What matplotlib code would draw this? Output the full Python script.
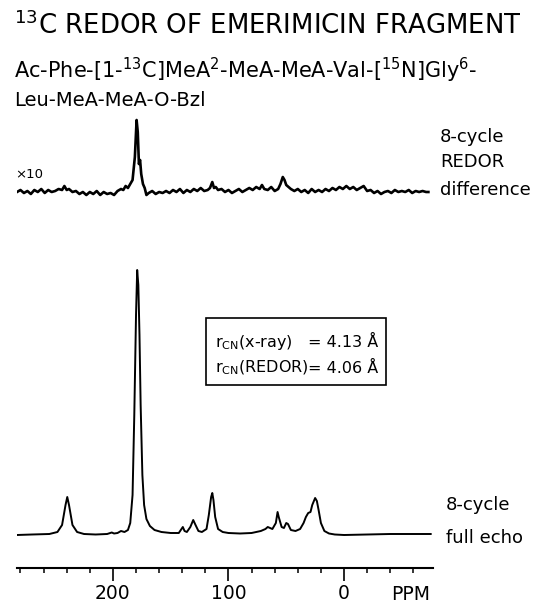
import numpy as np
import matplotlib.pyplot as plt
from matplotlib.ticker import MultipleLocator
from matplotlib.patches import Rectangle

plt.rcParams['font.family'] = ['DejaVu Sans']
plt.rcParams['mathtext.fontset'] = 'dejavusans'

W, H = 546, 607

## Full echo trace (ppm, height above baseline)
echo_ppm = [283, 270, 255, 248, 244, 241, 239.5, 238, 235, 231, 225, 215, 205, 201, 199,
            196, 193, 190, 187, 185, 183, 181.5, 180, 179, 178, 177, 176, 174.5, 173, 171,
            168, 164, 158, 150, 143, 139.5, 138, 136, 133, 130.5, 128.5, 126, 123, 119, 117,
            115, 114, 113, 111.5, 109, 105, 100, 90, 80, 72, 68, 66, 64, 62, 59, 57.5, 56.5,
            54, 52, 50, 48.5, 46, 42, 38, 35, 33, 31, 29, 27.5, 25, 23.5, 22, 20, 17, 13, 8, 0,
            -20, -40, -60, -75]
echo_int = [0, 0.5, 1, 3, 10, 30, 38, 30, 10, 3, 1, 0.5, 1, 2.5, 1.5,
            2, 4, 3, 5, 12, 40, 120, 220, 265, 250, 200, 130, 60, 30, 16,
            9, 5, 3, 2, 2, 8, 4, 3, 8, 15, 10, 4, 3, 6, 20,
            38, 42, 35, 18, 6, 3, 2, 1.5, 2, 4, 6, 8, 7, 6, 12, 23, 18,
            8, 7, 12, 11, 5, 4, 6, 12, 18, 22, 23, 30, 37, 34, 25, 12, 4, 1.5, 0.5, 0,
            0.5, 1, 1, 1]

## REDOR difference trace (x10)
diff_ppm = [283, 280, 277, 274, 271, 268, 265, 262, 259, 256, 253, 250, 247, 244, 242, 240,
            238, 235, 232, 229, 226, 223, 220, 217, 214, 211, 208, 205, 202, 199, 196, 193,
            191, 189, 187, 185, 183, 181, 179.5, 178.5, 177.5, 176.5, 175.5, 174, 172.5, 171,
            169, 166, 163, 160, 157, 154, 151, 148, 145, 142, 139, 136, 133, 130, 127, 124,
            121, 118, 116, 114, 112.5, 111, 109, 106, 103, 100, 97, 94, 91, 88, 85, 82, 79,
            76, 73, 71, 69, 66, 63, 60, 57, 55, 53, 51.5, 50, 48, 46, 43, 40, 37, 34, 31, 28,
            25, 22, 19, 16, 13, 10, 7, 4, 1, -2, -5, -8, -11, -14, -17, -20, -23, -26, -29,
            -32, -35, -38, -41, -44, -47, -50, -53, -56, -59, -62, -65, -68, -71, -73]
diff_int = [0, 2, -1, 1, -2, 2, 0, 3, -1, 2, 0, 1, 3, 2, 6, 2,
            3, 0, 1, -2, 0, -3, 0, -2, 1, -3, 0, -2, -1, -3, 1, 3,
            2, 6, 4, 8, 12, 35, 72, 60, 28, 32, 18, 8, 4, -3,
            -1, 1, -2, 0, -1, 1, -1, 2, 0, 3, -1, 2, 0, 3, 1, 4,
            1, 2, 4, 10, 4, 5, 2, 3, 0, 2, -1, 1, 3, 0, 2, 4, 2,
            5, 3, 7, 3, 2, 5, 1, 3, 8, 15, 12, 7, 5, 3, 1, 3, 0, 2, -1, 3,
            0, 2, 0, 3, 1, 4, 2, 5, 3, 6, 3, 5, 2, 4, 6, 1, 2, -1, 1,
            -2, 0, 1, -1, 2, 0, 1, 0, 2, -1, 1, 0, 1, 0, 0]

diff_offset = 343  # difference trace sits above the full echo
major_ticks = [200, 100, 0]
tick_labels = ['200', '100', '0']


def fx(x):
    return x / W


def fy(y):
    return 1 - y / H


fig = plt.figure(figsize=(W / 100, H / 100), dpi=100)
ax = fig.add_axes([fx(17), fy(568), (433 - 17) / W, (568 - 100) / H])

ax.plot(echo_ppm, echo_int, color='black', lw=1.4)
ax.plot(diff_ppm, np.array(diff_int) + diff_offset, color='black', lw=1.9)

ax.set_xlim(283, -77)
ax.set_ylim(-33, 435)
ax.set_xticks(major_ticks)
ax.set_xticklabels(tick_labels)
ax.xaxis.set_minor_locator(MultipleLocator(20))
ax.tick_params(axis='x', which='major', length=9.5, width=1.2, direction='out',
               labelsize=13.5, pad=2)
ax.tick_params(axis='x', which='minor', length=3.6, width=1.1, direction='out')
ax.set_yticks([])
for s in ['top', 'left', 'right']:
    ax.spines[s].set_visible(False)
ax.spines['bottom'].set_linewidth(1.5)
ax.patch.set_visible(False)

fig.text(fx(411), fy(594), 'PPM', fontsize=13.5, ha='center', va='center')

# titles
fig.text(fx(14), fy(34), r'$^{13}$C REDOR OF EMERIMICIN FRAGMENT', fontsize=18.7,
         ha='left', va='baseline')
fig.text(fx(14), fy(70), r'Ac-Phe-[1-$^{13}$C]MeA$^{2}$-MeA-MeA-Val-[$^{15}$N]Gly$^{6}$-',
         fontsize=15, ha='left', va='center')
fig.text(fx(14), fy(100), 'Leu-MeA-MeA-O-Bzl', fontsize=14, ha='left', va='center')

# trace labels
fig.text(fx(15), fy(175), '×10', fontsize=9.5, ha='left', va='center')
for txt, y in [('8-cycle', 137), ('REDOR', 162), ('difference', 190)]:
    fig.text(fx(440), fy(y), txt, fontsize=13, ha='left', va='center')
for txt, y in [('8-cycle', 505), ('full echo', 538)]:
    fig.text(fx(446), fy(y), txt, fontsize=13, ha='left', va='center')

# distance box
fig.patches.append(Rectangle((fx(206), fy(385)), (386 - 206) / W, (385 - 318) / H,
                             transform=fig.transFigure, fill=False, lw=1.2,
                             edgecolor='black'))
fig.text(fx(215), fy(342), r'r$_{\mathregular{CN}}$(x-ray)', fontsize=11.5,
         ha='left', va='center')
fig.text(fx(378), fy(342), '= 4.13 Å', fontsize=11.5, ha='right', va='center')
fig.text(fx(215), fy(368), r'r$_{\mathregular{CN}}$(REDOR)', fontsize=11.5,
         ha='left', va='center')
fig.text(fx(378), fy(368), '= 4.06 Å', fontsize=11.5, ha='right', va='center')

fig.savefig('out.png', dpi=100)
